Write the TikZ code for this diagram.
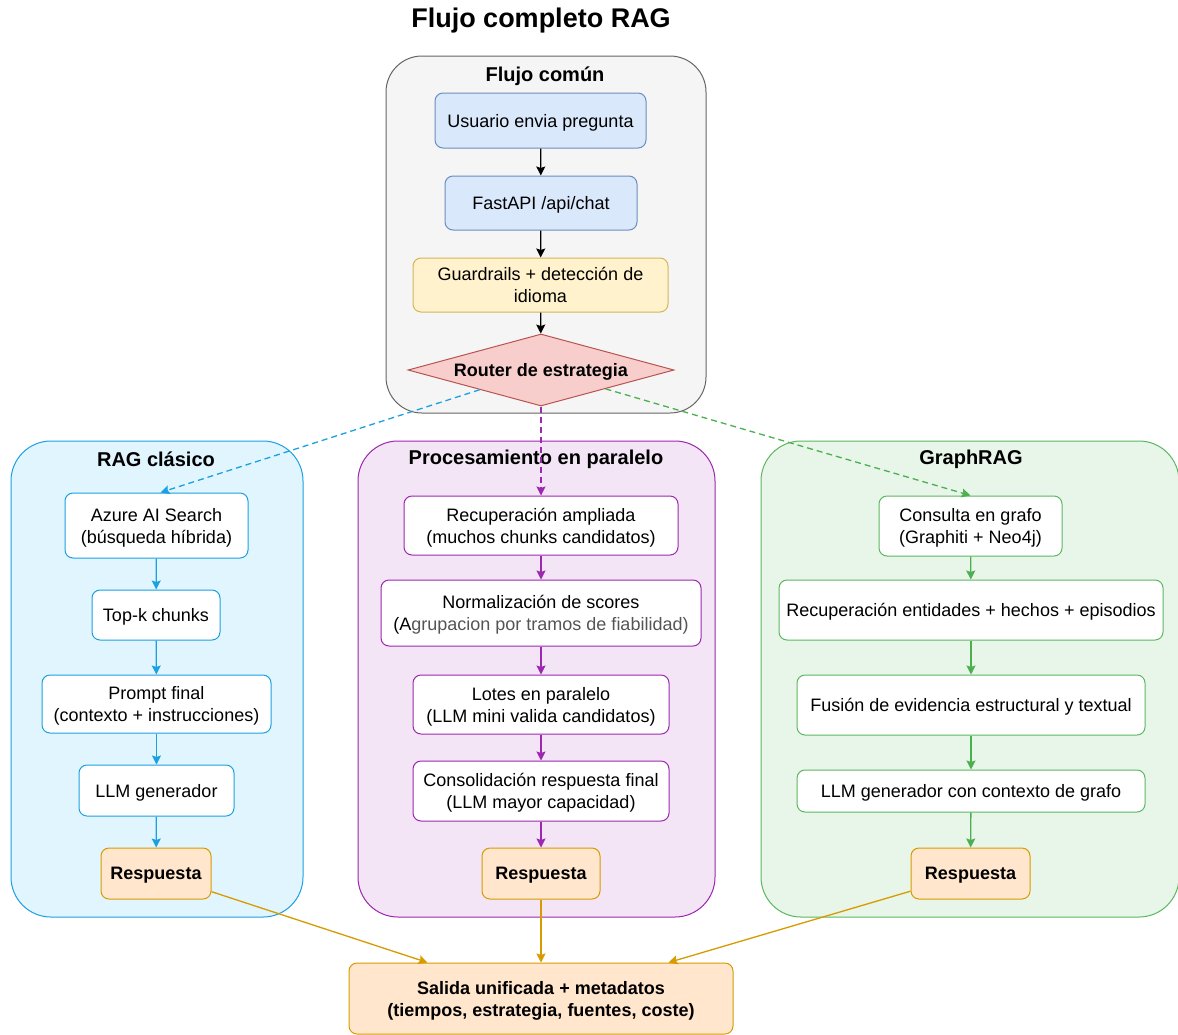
\documentclass[tikz,border=0pt]{standalone}
\usepackage{fontspec}
\setmainfont{Liberation Sans}
\usetikzlibrary{arrows.meta,shapes.geometric,calc}
\definecolor{cfill}{HTML}{F5F5F5}
\definecolor{cdraw}{HTML}{666666}
\definecolor{bfill}{HTML}{DAE8FC}
\definecolor{bdraw}{HTML}{6C8EBF}
\definecolor{yfill}{HTML}{FFF2CC}
\definecolor{ydraw}{HTML}{D6B656}
\definecolor{rfill}{HTML}{F8CECC}
\definecolor{rdraw}{HTML}{B85450}
\definecolor{lbfill}{HTML}{E1F5FE}
\definecolor{lbdraw}{HTML}{1BA1E2}
\definecolor{pfill}{HTML}{F3E5F5}
\definecolor{pdraw}{HTML}{9C27B0}
\definecolor{gfill}{HTML}{E8F5E9}
\definecolor{gdraw}{HTML}{5DB761}
\definecolor{garr}{HTML}{4CAF50}
\definecolor{ofill}{HTML}{FFE6CC}
\definecolor{odraw}{HTML}{D79B00}
\definecolor{graytxt}{HTML}{555555}
\begin{document}
\begin{tikzpicture}[x=1pt,y=-1pt,
  txt/.style={font=\fontsize{18}{22}\selectfont},
  btxt/.style={font=\bfseries\fontsize{18}{22}\selectfont},
  grptitle/.style={font=\bfseries\fontsize{20}{24}\selectfont},
  grp/.style={draw, line width=1pt, rounded corners=40pt, inner sep=0pt},
  box/.style={draw, line width=1pt, rounded corners=8pt, inner sep=0pt, align=center, txt, text depth=0pt},
  arr/.style={line width=1.3pt, -{Stealth[length=9pt,width=9pt,inset=1.5pt]}},
  karr/.style={arr, draw=black},
  barr/.style={arr, draw=lbdraw},
  parr/.style={arr, draw=pdraw},
  garrow/.style={arr, draw=garr},
  oarr/.style={arr, draw=odraw},
  dsh/.style={dash pattern=on 6pt off 4pt}
]
\useasboundingbox (0,0) rectangle (1178,1034);
\fill[white] (0,0) rectangle (1178,1034);

\node[font=\bfseries\fontsize{27}{32}\selectfont] (title) at (541,21) {Flujo completo RAG};

% groups
\node[grp, rounded corners=36pt, draw=cdraw, fill=cfill, minimum width=320pt, minimum height=357pt] (gcomun) at (546,234.5) {};
\node[grptitle, text depth=0pt] (tcomun) at (545,74) {Flujo común};

\node[grp, draw=lbdraw, fill=lbfill, minimum width=292pt, minimum height=476pt] (grag) at (157,679) {};
\node[grptitle] (trag) at (156,459) {RAG clásico};

\node[grp, draw=pdraw, fill=pfill, minimum width=357pt, minimum height=476pt] (gpar) at (536.5,679) {};
\node[grptitle] (tpar) at (536,459) {Procesamiento en paralelo};

\node[grp, draw=gdraw, fill=gfill, minimum width=418pt, minimum height=476pt] (ggraph) at (970,679) {};
\node[grptitle] (tgraph) at (971,459) {GraphRAG};

% common flow
\node[box, fill=bfill, draw=bdraw, minimum width=211pt, minimum height=55pt] (user) at (540.5,120.5) {Usuario envia pregunta};
\node[box, fill=bfill, draw=bdraw, minimum width=192pt, minimum height=54pt] (fast) at (541,203) {FastAPI /api/chat};
\node[box, fill=yfill, draw=ydraw, minimum width=255pt, minimum height=54pt] (guard) at (540.5,285) {Guardrails + detección de\\idioma};
\node[diamond, draw=rdraw, fill=rfill, line width=1pt, inner sep=0pt, aspect=3.69, minimum width=266pt, minimum height=72pt, btxt, text depth=0pt] (router) at (541,370) {Router de estrategia};

\draw[karr] (user) -- (fast);
\draw[karr] (fast) -- (guard);
\draw[karr] (guard) -- (router);

% RAG clasico
\node[box, fill=white, draw=lbdraw, minimum width=183pt, minimum height=65pt] (azure) at (156.5,525.5) {Azure AI Search\\(búsqueda híbrida)};
\node[box, fill=white, draw=lbdraw, minimum width=128pt, minimum height=50pt] (topk) at (156,615) {Top-k chunks};
\node[box, fill=white, draw=lbdraw, minimum width=229pt, minimum height=58pt] (prompt) at (156.5,704) {Prompt final\\(contexto + instrucciones)};
\node[box, fill=white, draw=lbdraw, minimum width=155pt, minimum height=51pt] (llm1) at (156.5,790.5) {LLM generador};
\node[box, fill=ofill, draw=odraw, minimum width=110pt, minimum height=51pt, btxt] (r1) at (156,873.5) {Respuesta};

\draw[barr] (azure) -- (topk);
\draw[barr] (topk) -- (prompt);
\draw[barr] (prompt) -- (llm1);
\draw[barr] (llm1) -- (r1);

% Paralelo
\node[box, fill=white, draw=pdraw, minimum width=274pt, minimum height=59pt] (recamp) at (541,525.5) {Recuperación ampliada\\(muchos chunks candidatos)};
\node[box, fill=white, draw=pdraw, minimum width=320pt, minimum height=66pt] (norm) at (541,613) {Normalización de scores\\(A\textcolor{graytxt}{grupacion por tramos de fiabilidad)}};
\node[box, fill=white, draw=pdraw, minimum width=256pt, minimum height=59pt] (lotes) at (541,704.5) {Lotes en paralelo\\(LLM mini valida candidatos)};
\node[box, fill=white, draw=pdraw, minimum width=256pt, minimum height=60pt] (consol) at (541,791) {Consolidación respuesta final\\(LLM mayor capacidad)};
\node[box, fill=ofill, draw=odraw, minimum width=118pt, minimum height=51pt, btxt] (r2) at (541,873.5) {Respuesta};

\draw[parr] (recamp) -- (norm);
\draw[parr] (norm) -- (lotes);
\draw[parr] (lotes) -- (consol);
\draw[parr] (consol) -- (r2);

% GraphRAG
\node[box, fill=white, draw=gdraw, minimum width=183pt, minimum height=60pt] (consulta) at (970.5,526) {Consulta en grafo\\(Graphiti + Neo4j)};
\node[box, fill=white, draw=gdraw, minimum width=384pt, minimum height=60pt] (entid) at (971,610) {Recuperación entidades + hechos + episodios};
\node[box, fill=white, draw=gdraw, minimum width=348pt, minimum height=60pt] (fusion) at (971,705) {Fusión de evidencia estructural y textual};
\node[box, fill=white, draw=gdraw, minimum width=348pt, minimum height=42pt] (llm3) at (971,791) {LLM generador con contexto de grafo};
\node[box, fill=ofill, draw=odraw, minimum width=119pt, minimum height=51pt, btxt] (r3) at (970.5,873.5) {Respuesta};

\draw[garrow] (consulta) -- (entid);
\draw[garrow] (entid) -- (fusion);
\draw[garrow] (fusion) -- (llm3);
\draw[garrow] (llm3) -- (r3);

% Router branches
\draw[barr, dsh] (router) -- ([xshift=4pt]azure.north);
\draw[parr, dsh] (router) -- (recamp);
\draw[garrow, dsh] (router) -- (consulta.north);

% Salida
\node[box, fill=ofill, draw=odraw, minimum width=384pt, minimum height=71pt, btxt] (salida) at (541,998.5) {Salida unificada + metadatos\\(tiempos, estrategia, fuentes, coste)};

\draw[oarr] (r1) -- ([xshift=79pt]salida.north west);
\draw[oarr] (r2) -- (salida);
\draw[oarr] (r3) -- ([xshift=-65pt]salida.north east);
\end{tikzpicture}
\end{document}
